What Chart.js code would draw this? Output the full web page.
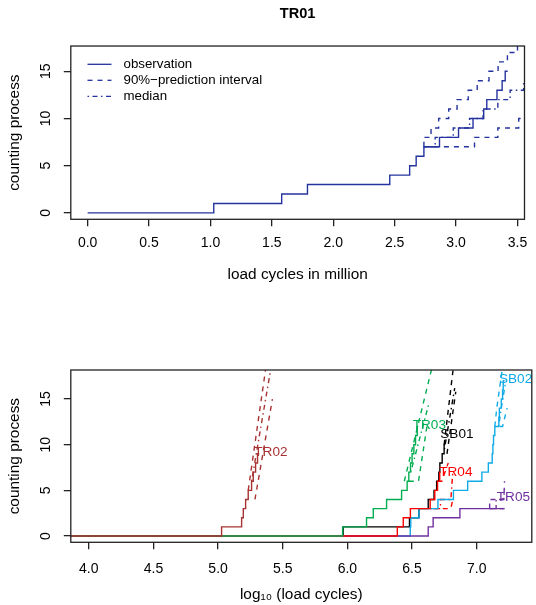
<!DOCTYPE html>
<html>
<head>
<meta charset="utf-8">
<script src="https://cdn.jsdelivr.net/npm/chart.js@4.4.1/dist/chart.umd.min.js"></script>
<style>
  html, body { margin: 0; padding: 0; background: #fff; }
  #wrap { position: relative; width: 536px; height: 605px; background: #fff; }
  #wrap canvas { position: absolute; left: 0; }
</style>
</head>
<body>
<div id="wrap">
  <canvas id="topChart" width="536" height="300" style="top:0"></canvas>
  <canvas id="bottomChart" width="536" height="305" style="top:300px"></canvas>
</div>
<script>
// ---- top panel: TR01 (load cycles in million) ----
const tr01ObsX = [0, 1.027, 1.58, 1.79, 2.46, 2.622, 2.675, 2.738, 2.865, 3.02, 3.138, 3.225, 3.25, 3.333, 3.375, 3.40, 3.42];
const tr01ObsY = [0, 1, 2, 3, 4, 5, 6, 7, 8, 9, 10, 11, 12, 13, 14, 15, 15];
const tr01UpX  = [2.738, 2.738, 2.796, 2.858, 2.94, 3.008, 3.099, 3.172, 3.268, 3.342, 3.418, 3.50, 3.60];
const tr01UpY  = [7, 8, 9, 10, 11, 12, 13, 14, 15, 16, 17, 18, 18];
const tr01MedX = [2.738, 2.83, 2.977, 3.11, 3.22, 3.34, 3.44, 3.55, 3.60];
const tr01MedY = [7, 8, 9, 10, 11, 12, 13, 14, 14];
const tr01LowX = [2.738, 3.15, 3.34, 3.51, 3.60];
const tr01LowY = [7, 8, 9, 10, 10];
const topTicksX = [0, 0.5, 1.0, 1.5, 2.0, 2.5, 3.0, 3.5];
const ticksY = [0, 5, 10, 15];
const legendLabels = ['observation', '90%\u2212prediction interval', 'median'];

// ---- bottom panel: all specimens, log10(load cycles) ----
const specimens = ['TR02', 'TR03', 'TR04', 'TR05', 'SB02', 'SB01'];
const obsX = {
  TR02: [3.8, 5.027, 5.182, 5.195, 5.213, 5.233, 5.259, 5.272, 5.29, 5.305, 5.318],
  TR03: [3.8, 5.963, 6.148, 6.2, 6.303, 6.419, 6.462, 6.475, 6.488, 6.5, 6.514, 6.527, 6.54, 6.548],
  TR04: [3.8, 6.386, 6.432, 6.487, 6.64, 6.676, 6.697, 6.714, 6.72],
  TR05: [3.8, 6.625, 6.663, 6.87, 7.21],
  SB02: [3.8, 6.486, 6.49, 6.553, 6.70, 6.82, 6.93, 7.04, 7.09, 7.12, 7.125, 7.13, 7.14, 7.171, 7.175, 7.19, 7.20, 7.205, 7.215],
  SB01: [3.8, 5.967, 6.48, 6.553, 6.625, 6.67, 6.69, 6.707, 6.715, 6.733, 6.748, 6.755]
};
const obsY = {
  TR02: [0, 1, 2, 3, 4, 5, 6, 7, 8, 9, 9],
  TR03: [0, 1, 2, 3, 4, 5, 6, 7, 8, 9, 10, 11, 12, 12],
  TR04: [0, 1, 2, 3, 4, 5, 6, 7, 7],
  TR05: [0, 1, 2, 3, 3],
  SB02: [0, 1, 2, 3, 4, 5, 6, 7, 8, 9, 10, 11, 12, 13, 14, 15, 16, 17, 17],
  SB01: [0, 1, 2, 3, 4, 5, 6, 7, 8, 9, 10, 10]
};
// prediction curves: upper / median / lower (polyline vertices)
const upX  = { TR02: [5.233, 5.37], TR03: [6.44, 6.655], TR04: [6.697, 6.73, 6.78], TR05: [7.10, 7.10, 7.21, 7.215], SB02: [7.14, 7.155, 7.20], SB01: [6.748, 6.818] };
const upY  = { TR02: [5, 18.5],     TR03: [6, 18.5],     TR04: [6, 6, 8],            TR05: [3, 4, 4, 6],            SB02: [12, 14, 18.5],      SB01: [10, 18.3] };
const medX = { TR02: [5.259, 5.41], TR03: [6.49, 6.63],  TR04: [6.64, 6.72, 6.72, 6.8, 6.815], TR05: [7.10, 7.15, 7.15, 7.20, 7.22], SB02: [7.17, 7.19, 7.225], SB01: [6.75, 6.83] };
const medY = { TR02: [6, 18.5],     TR03: [7, 14.5],     TR04: [3, 3, 4, 4, 7],      TR05: [3, 3, 4, 4, 5],         SB02: [12, 14, 17],        SB01: [9.5, 16.2] };
const lowX = { TR02: [5.285, 5.42], TR03: [6.475, 6.55, 6.615], TR04: [6.66, 6.80, 6.815], TR05: [7.10, 7.22], SB02: [7.18, 7.20, 7.235], SB01: [6.77, 6.838] };
const lowY = { TR02: [4, 15],       TR03: [6, 6, 12],    TR04: [3, 3, 4],            TR05: [3, 3],                  SB02: [12, 12, 14],        SB01: [9, 15.8] };
const labelX = { TR02: 5.28, TR03: 6.505, TR04: 6.71, TR05: 7.155, SB02: 7.172, SB01: 6.718 };
const labelY = { TR02: 9.12, TR03: 12.12, TR04: 7.02, TR05: 4.22, SB02: 17.2, SB01: 11.15 };
const bottomTicksX = [4.0, 4.5, 5.0, 5.5, 6.0, 6.5, 7.0];

const colors = { TR01: '#24339e', TR02: '#a83232', TR03: '#00ad50', TR04: '#ff0000', TR05: '#7030a0', SB02: '#10aae8', SB01: '#000000' };
const DASH = [5, 5];
const DOTDASH = [1.5, 3.5, 5, 3.5];
const FONT = '"Liberation Sans", Arial, Helvetica, sans-serif';

function pts(xs, ys) {
  return xs.map((x, i) => ({ x: x, y: ys[i] }));
}

function line(label, xs, ys, color, dash, stepped) {
  return {
    label: label,
    data: pts(xs, ys),
    borderColor: color,
    borderWidth: 1.4,
    borderDash: dash,
    pointRadius: 0,
    fill: false,
    stepped: stepped,
    tension: 0
  };
}

const boxPlugin = {
  id: 'box',
  afterDraw(chart) {
    const { ctx, chartArea: a } = chart;
    ctx.save();
    ctx.strokeStyle = '#222';
    ctx.lineWidth = 1.3;
    ctx.strokeRect(a.left, a.top, a.right - a.left, a.bottom - a.top);
    ctx.restore();
  }
};

// legend without a frame, top-left inside the plot region
const legendPlugin = {
  id: 'rlegend',
  afterDraw(chart) {
    const ctx = chart.ctx;
    const rows = [0, 1, 2];
    ctx.save();
    ctx.font = '13.3px ' + FONT;
    ctx.textBaseline = 'middle';
    ctx.fillStyle = '#000';
    rows.forEach(i => {
      const ds = chart.data.datasets[i === 0 ? 0 : i === 1 ? 1 : 3];
      const y = 64.3 + i * 16;
      ctx.strokeStyle = ds.borderColor;
      ctx.lineWidth = 1.3;
      ctx.setLineDash(ds.borderDash || []);
      ctx.beginPath();
      ctx.moveTo(87.5, y);
      ctx.lineTo(111.5, y);
      ctx.stroke();
      ctx.fillText(legendLabels[i], 123.5, y);
    });
    ctx.restore();
  }
};

const nameLabelPlugin = {
  id: 'names',
  afterDatasetsDraw(chart) {
    const { ctx, scales } = chart;
    ctx.save();
    ctx.font = '13.6px ' + FONT;
    ctx.textBaseline = 'middle';
    ctx.textAlign = 'left';
    specimens.forEach(s => {
      ctx.fillStyle = colors[s];
      ctx.fillText(s, scales.x.getPixelForValue(labelX[s]), scales.y.getPixelForValue(labelY[s]));
    });
    ctx.restore();
  }
};

function axes(xmin, xmax, ymin, ymax, xTicks, xTitle, xAxisHeight, xTickPad, xTitlePad) {
  const tickGrid = { drawOnChartArea: false, drawTicks: true, tickLength: 7, color: '#222', lineWidth: 1.3 };
  return {
    x: {
      type: 'linear', min: xmin, max: xmax,
      grid: tickGrid,
      border: { display: false },
      afterBuildTicks: s => { s.ticks = xTicks.map(v => ({ value: v })); },
      afterFit: s => { s.height = xAxisHeight; },
      ticks: {
        padding: xTickPad, maxRotation: 0, autoSkip: false, color: '#000',
        font: { family: FONT, size: 14 },
        callback: v => v.toFixed(1)
      },
      title: { display: true, text: xTitle, color: '#000', font: { family: FONT, size: 15.4 }, padding: { top: 0, bottom: xTitlePad } }
    },
    y: {
      type: 'linear', min: ymin, max: ymax,
      grid: tickGrid,
      border: { display: false },
      afterBuildTicks: s => { s.ticks = ticksY.map(v => ({ value: v })); },
      afterFit: s => { s.width = 70.8; },
      ticks: {
        padding: 10, minRotation: 90, maxRotation: 90, crossAlign: 'center', autoSkip: false, color: '#000',
        font: { family: FONT, size: 14 },
        callback: v => String(v)
      },
      title: { display: true, text: 'counting process', color: '#000', font: { family: FONT, size: 15.4 }, padding: { top: 6, bottom: 0 } }
    }
  };
}

// top chart
const topColor = colors.TR01;
new Chart(document.getElementById('topChart'), {
  type: 'line',
  data: {
    datasets: [
      line('observation', tr01ObsX, tr01ObsY, topColor, [], true),
      line('upper', tr01UpX, tr01UpY, topColor, DASH, true),
      line('lower', tr01LowX, tr01LowY, topColor, DASH, true),
      line('median', tr01MedX, tr01MedY, topColor, DOTDASH, true)
    ]
  },
  options: {
    responsive: false,
    animation: false,
    layout: { padding: { left: 0, right: 4.2, top: 0, bottom: 0 } },
    plugins: {
      legend: { display: false },
      tooltip: { enabled: false },
      title: {
        display: true, text: 'TR01', fullSize: false, color: '#000',
        font: { family: FONT, size: 14.6, weight: 'bold' },
        padding: { top: 5.6, bottom: 22.9 }
      }
    },
    scales: axes(-0.137, 3.557, -0.68, 17.68, topTicksX, 'load cycles in million', 80.7, 8.6, 15.8)
  },
  plugins: [boxPlugin, legendPlugin]
});

// bottom chart: dataset 0 is drawn on top
const bottomSets = [];
specimens.forEach(s => {
  bottomSets.push(line(s, obsX[s], obsY[s], colors[s], [], true));
});
specimens.forEach(s => {
  bottomSets.push(line(s + ' upper', upX[s], upY[s], colors[s], DASH, false));
  bottomSets.push(line(s + ' median', medX[s], medY[s], colors[s], DOTDASH, false));
  bottomSets.push(line(s + ' lower', lowX[s], lowY[s], colors[s], DASH, false));
});

new Chart(document.getElementById('bottomChart'), {
  type: 'line',
  data: { datasets: bottomSets },
  options: {
    responsive: false,
    animation: false,
    layout: { padding: { left: 0, right: 4.2, top: 70, bottom: 0 } },
    plugins: { legend: { display: false }, tooltip: { enabled: false } },
    scales: axes(3.861, 7.426, -0.69, 18.18, bottomTicksX, 'log\u2081\u2080 (load cycles)', 62.7, 11.8, 0.8)
  },
  plugins: [boxPlugin, nameLabelPlugin]
});
</script>
</body>
</html>
